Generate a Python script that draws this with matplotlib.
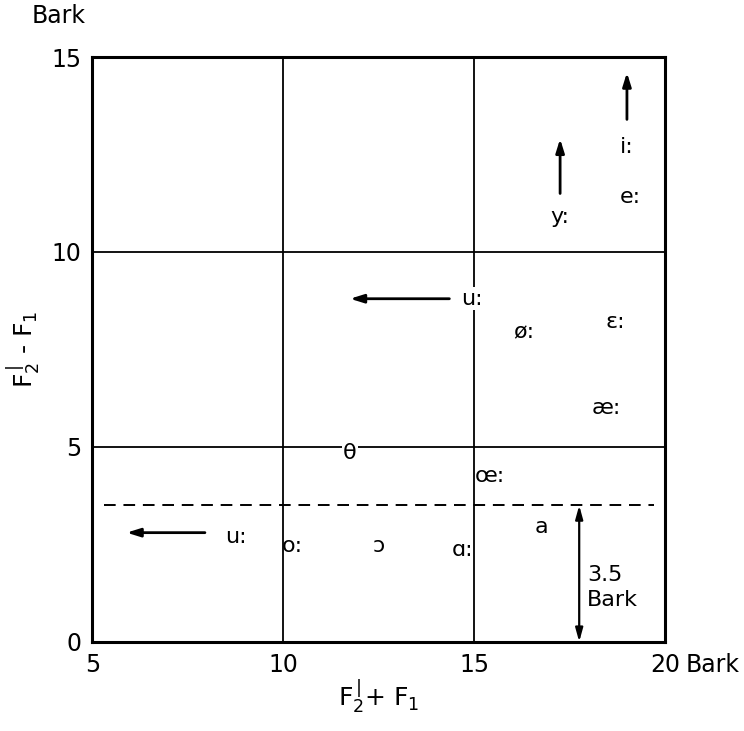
import matplotlib.pyplot as plt

# vowel positions (Bark)
vowels = ['i:', 'e:', 'y:', 'u:', 'ø:', 'ε:', 'æ:', 'θ', 'œ:', 'a', 'u:', 'o:', 'ɔ', 'ɑ:']
vx = [19.0, 19.1, 17.25, 14.95, 16.3, 18.7, 18.45, 11.75, 15.4, 16.75, 8.75, 10.25, 12.5, 14.7]
vy = [12.7, 11.4, 10.9, 8.8, 7.95, 8.2, 6.0, 4.85, 4.25, 2.95, 2.7, 2.45, 2.45, 2.35]

# arrows (start -> end)
arr_start = [(19.0, 13.4), (17.25, 11.5), (14.35, 8.8), (7.95, 2.8)]
arr_end = [(19.0, 14.6), (17.25, 12.9), (11.75, 8.8), (5.9, 2.8)]

xticks = [5, 10, 15, 20]
yticks = [0, 5, 10, 15]
grid_x = [10, 15]
grid_y = [5, 10]
limit = 3.5

plt.rcParams['font.family'] = ['DejaVu Sans']
plt.rcParams['mathtext.fontset'] = 'dejavusans'

fig = plt.figure(figsize=(7.44, 7.31), dpi=100)
ax = fig.add_axes([0.124, 0.122, 0.770, 0.800])
ax.set_xlim(5, 20)
ax.set_ylim(0, 15)

for s in ax.spines.values():
    s.set_linewidth(2.2)

for g in grid_x:
    ax.axvline(g, color='black', lw=1.3)
for g in grid_y:
    ax.axhline(g, color='black', lw=1.3)

ax.plot([5.3, 19.7], [limit, limit], color='black', lw=1.4, ls=(0, (6, 4)))

ax.set_xticks(xticks)
ax.set_yticks(yticks)
ax.tick_params(length=0, labelsize=17, pad=8)
ax.text(1.036, -0.019, 'Bark', transform=ax.transAxes, fontsize=17, va='top', ha='left')
ax.text(-0.105, 1.05, 'Bark', transform=ax.transAxes, fontsize=17, va='bottom', ha='left')

ax.set_xlabel(r'F$_2^{\,|}$+ F$_1$', fontsize=18, labelpad=0)
ax.set_ylabel(r'F$_2^{\,|}$ - F$_1$', fontsize=18, labelpad=6)

for lab, x, y in zip(vowels, vx, vy):
    bb = dict(facecolor='white', edgecolor='none', pad=1) if lab in ('θ',) or (x == 14.95) else None
    ax.text(x, y, lab, fontsize=16, ha='center', va='center', bbox=bb)

for (x0, y0), (x1, y1) in zip(arr_start, arr_end):
    ax.annotate('', xy=(x1, y1), xytext=(x0, y0),
                arrowprops=dict(arrowstyle='-|>,head_length=0.8,head_width=0.25',
                                color='black', lw=2, shrinkA=0, shrinkB=0))

ax.annotate('', xy=(17.75, limit), xytext=(17.75, 0),
            arrowprops=dict(arrowstyle='<|-|>,head_length=0.8,head_width=0.22',
                            color='black', lw=1.6, shrinkA=0, shrinkB=0))
ax.text(17.95, 1.4, '3.5\nBark', fontsize=16, ha='left', va='center', linespacing=1.3)

fig.savefig('out.png', dpi=100)
